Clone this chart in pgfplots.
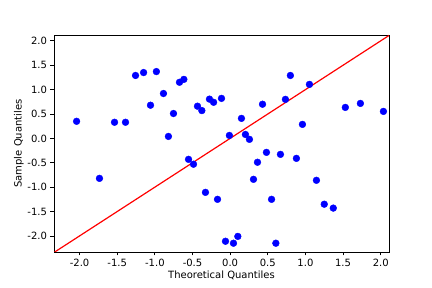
\documentclass[border=0pt]{standalone}
\usepackage{pgfplots}
\pgfplotsset{compat=1.18}
\usepackage{fontspec}
\setmainfont{DejaVu Sans}
\begin{document}
\begin{tikzpicture}
\path[use as bounding box] (0,0) rectangle (432pt,288pt);
\begin{axis}[
  at={(54pt,36pt)}, anchor=south west,
  scale only axis, width=335pt, height=217pt,
  xmin=-2.34, xmax=2.11, ymin=-2.33, ymax=2.12,
  xtick={-2,-1.5,-1,-0.5,0,0.5,1,1.5,2},
  ytick={-2,-1.5,-1,-0.5,0,0.5,1,1.5,2},
  /pgf/number format/assume math mode=true,
  /pgf/number format/.cd, fixed, fixed zerofill, precision=1, /pgfplots/.cd,
  tick label style={font=\fontsize{10}{12}\selectfont},
  label style={font=\fontsize{10}{12}\selectfont},
  xlabel={Theoretical Quantiles}, ylabel={Sample Quantiles},
  xlabel style={yshift=3pt},
  ylabel style={yshift=-3pt},
  tick align=outside, tick pos=left, major tick length=3.5pt,
  axis line style={line width=0.8pt},
  every tick/.style={black, line width=0.8pt},
  clip=true,
]
\addplot[only marks, mark=*, mark size=3.4pt, color={rgb,255:red,0;green,0;blue,255}] coordinates {
(-2.04,0.35) (-1.736,-0.82) (-1.536,0.33) (-1.39,0.33) (-1.257,1.29)
(-1.15,1.35) (-1.058,0.68) (-0.98,1.37) (-0.886,0.92) (-0.82,0.04)
(-0.753,0.51) (-0.673,1.15) (-0.615,1.21) (-0.553,-0.43) (-0.487,-0.53)
(-0.434,0.66) (-0.376,0.57) (-0.328,-1.107) (-0.275,0.805) (-0.22,0.74)
(-0.168,-1.25) (-0.115,0.82) (-0.062,-2.11) (-0.01,0.06) (0.044,-2.15)
(0.102,-2.01) (0.15,0.41) (0.203,0.08) (0.256,-0.02) (0.31,-0.84)
(0.363,-0.49) (0.43,0.70) (0.482,-0.287) (0.55,-1.25) (0.607,-2.15)
(0.668,-0.328) (0.734,0.80) (0.80,1.29) (0.88,-0.41) (0.96,0.287)
(1.053,1.107) (1.146,-0.86) (1.25,-1.35) (1.37,-1.43) (1.53,0.635)
(1.73,0.717) (2.036,0.553)
};
\addplot[red, line width=1.2pt] coordinates {(-2.4,-2.4) (2.2,2.2)};
\end{axis}
\end{tikzpicture}
\end{document}
